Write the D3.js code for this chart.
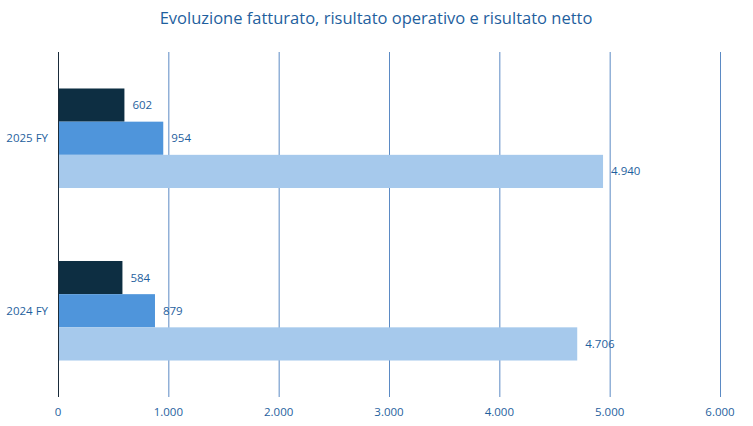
<!DOCTYPE html><html><head><script src="https://cdn.jsdelivr.net/npm/d3@7"></script>
<style>body{margin:0;background:#fff}text{font-family:"Open Sans",sans-serif}</style></head><body>
<svg id="c" width="753" height="426"></svg>
<script>
const categories=["2025 FY","2024 FY"];
const seriesNames=["Risultato netto","Risultato operativo","Fatturato"];
const netto=[602,584];
const operativo=[954,879];
const fatturato=[4940,4706];
const ticks=[0,1000,2000,3000,4000,5000,6000];
const colors=["#0d2e42","#4f95db","#a6c9ec"];
const fmt=v=>d3.format(",")(v).replace(/,/g,".");
const svg=d3.select("#c");
const L=58,R=720,T=52,B=397;
const x=d3.scaleLinear().domain([0,6000]).range([L,R]);
const y=d3.scaleBand().domain(categories).range([T,B]);
const inner=d3.scaleBand().domain(seriesNames).range([0,y.bandwidth()]).paddingInner(0).paddingOuter(1.1);
svg.append("text").attr("x",376).attr("y",24).attr("text-anchor","middle").attr("font-size",16.5).attr("fill","#1f5f9e").text("Evoluzione fatturato, risultato operativo e risultato netto");
svg.selectAll(".g").data(ticks.slice(1)).enter().append("line").attr("x1",d=>x(d)+.5).attr("x2",d=>x(d)+.5).attr("y1",T).attr("y2",B).attr("stroke","#5b8ac4").attr("stroke-width",1);
const vals=[netto,operativo,fatturato];
seriesNames.forEach((s,si)=>{
 categories.forEach((c,ci)=>{
  const v=vals[si][ci];
  svg.append("rect").attr("x",x(0)).attr("y",y(c)+inner(s)).attr("width",x(v)-x(0)).attr("height",inner.bandwidth()).attr("fill",colors[si]);
  svg.append("text").attr("x",x(v)+8).attr("y",y(c)+inner(s)+inner.bandwidth()/2+4).attr("font-size",11.5).attr("fill","#1f5f9e").text(fmt(v));
 });
});
svg.append("line").attr("x1",L+.5).attr("x2",L+.5).attr("y1",T).attr("y2",B).attr("stroke","#1a2b3a");
svg.selectAll(".cl").data(categories).enter().append("text").attr("x",L-10).attr("y",d=>y(d)+y.bandwidth()/2+4).attr("text-anchor","end").attr("font-size",11.5).attr("fill","#1f5f9e").text(d=>d);
svg.selectAll(".tl").data(ticks).enter().append("text").attr("x",d=>x(d)).attr("y",416).attr("text-anchor","middle").attr("font-size",11.5).attr("fill","#1f5f9e").text(fmt);
</script></body></html>
